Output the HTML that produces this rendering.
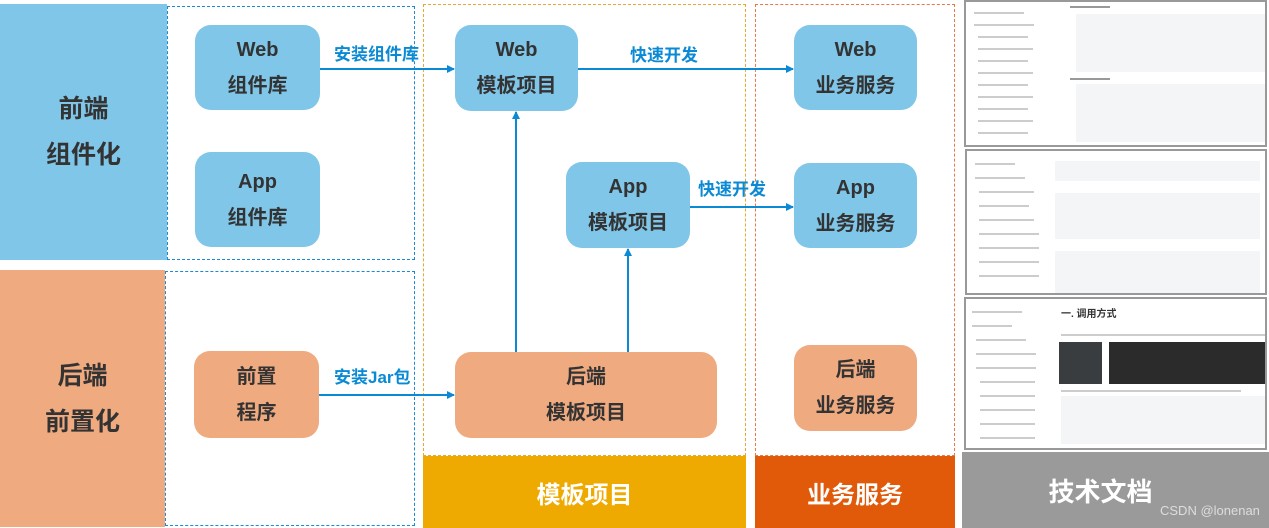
<!DOCTYPE html>
<html><head><meta charset="utf-8"><style>
body{margin:0;width:1269px;height:528px;position:relative;background:#fff;overflow:hidden;font-family:"Liberation Sans","Noto Sans CJK SC",sans-serif;}
.a{position:absolute;box-sizing:border-box;}
.n{position:absolute;box-sizing:border-box;border-radius:16px;display:flex;align-items:center;justify-content:center;text-align:center;font-weight:bold;font-size:20px;line-height:36px;color:#333;}
.b{background:#7fc6e8}.o{background:#f0aa80}
.big{position:absolute;display:flex;align-items:center;justify-content:center;text-align:center;font-weight:bold;color:#333;font-size:25px;line-height:46px}
.lbl{position:absolute;color:#0a8ad4;font-weight:bold;font-size:16px}
.bar{position:absolute;display:flex;align-items:center;justify-content:center;color:#fff;font-weight:bold;font-size:24px}
.doc{position:absolute;border:2px solid #999;background:#fff;box-sizing:border-box;overflow:hidden}
.ln{position:absolute;height:2px;background:#ccc}
.cd{position:absolute;background:#f4f5f7}
</style></head><body>
<div class="big b" style="left:0;top:4px;width:167px;height:256px">前端<br>组件化</div>
<div class="a" style="left:167px;top:6px;width:248px;height:254px;border:1.5px dashed #1a8ad4"></div>
<div class="big o" style="left:0;top:270px;width:165px;height:257px">后端<br>前置化</div>
<div class="a" style="left:165px;top:271px;width:250px;height:255px;border:1.5px dashed #1a8ad4"></div>
<div class="a" style="left:423px;top:4px;width:323px;height:452px;border:1.5px dashed #e8a830"></div>
<div class="bar" style="left:423px;top:456px;width:323px;height:72px;background:#eeaa00">模板项目</div>
<div class="a" style="left:755px;top:4px;width:200px;height:452px;border:1.5px dashed #e8784a"></div>
<div class="bar" style="left:755px;top:456px;width:200px;height:72px;background:#e05a0a">业务服务</div>
<div class="bar" style="left:962px;top:452px;width:307px;height:76px;background:#9a9a9a;font-size:26px;padding-right:30px;box-sizing:border-box">技术文档</div>
<div class="a" style="left:1160px;top:503px;color:#ddd;font-size:13px">CSDN @lonenan</div>

<div class="doc" style="left:964px;top:0;width:303px;height:147px">
<div class="ln" style="left:8px;top:10px;width:50px"></div><div class="ln" style="left:8px;top:22px;width:60px"></div><div class="ln" style="left:12px;top:34px;width:50px"></div><div class="ln" style="left:12px;top:46px;width:55px"></div><div class="ln" style="left:12px;top:58px;width:50px"></div><div class="ln" style="left:12px;top:70px;width:55px"></div><div class="ln" style="left:12px;top:82px;width:50px"></div><div class="ln" style="left:12px;top:94px;width:55px"></div><div class="ln" style="left:12px;top:106px;width:50px"></div><div class="ln" style="left:12px;top:118px;width:55px"></div><div class="ln" style="left:12px;top:130px;width:50px"></div>
<div class="ln" style="left:104px;top:4px;width:40px;background:#999"></div>
<div class="cd" style="left:110px;top:12px;width:190px;height:58px"></div>
<div class="ln" style="left:104px;top:76px;width:40px;background:#999"></div>
<div class="cd" style="left:110px;top:82px;width:190px;height:58px"></div>
</div>
<div class="doc" style="left:965px;top:149px;width:302px;height:146px">
<div class="ln" style="left:8px;top:12px;width:40px"></div><div class="ln" style="left:8px;top:26px;width:50px"></div><div class="ln" style="left:12px;top:40px;width:55px"></div><div class="ln" style="left:12px;top:54px;width:50px"></div><div class="ln" style="left:12px;top:68px;width:55px"></div><div class="ln" style="left:12px;top:82px;width:60px"></div><div class="ln" style="left:12px;top:96px;width:60px"></div><div class="ln" style="left:12px;top:110px;width:60px"></div><div class="ln" style="left:12px;top:124px;width:60px"></div>
<div class="cd" style="left:88px;top:10px;width:205px;height:20px"></div>
<div class="cd" style="left:88px;top:42px;width:205px;height:46px"></div>
<div class="cd" style="left:88px;top:100px;width:205px;height:42px"></div>
</div>
<div class="doc" style="left:964px;top:297px;width:303px;height:153px">
<div class="ln" style="left:6px;top:12px;width:50px"></div><div class="ln" style="left:6px;top:26px;width:40px"></div><div class="ln" style="left:10px;top:40px;width:50px"></div><div class="ln" style="left:10px;top:54px;width:60px"></div><div class="ln" style="left:10px;top:68px;width:60px"></div><div class="ln" style="left:14px;top:82px;width:55px"></div><div class="ln" style="left:14px;top:96px;width:55px"></div><div class="ln" style="left:14px;top:110px;width:55px"></div><div class="ln" style="left:14px;top:124px;width:55px"></div><div class="ln" style="left:14px;top:138px;width:55px"></div>
<div class="a" style="left:95px;top:6px;font-size:10px;font-weight:bold;color:#333">一. 调用方式</div>
<div class="ln" style="left:95px;top:35px;width:205px"></div>
<div class="a" style="left:93px;top:43px;width:43px;height:42px;background:#3a3d40"></div>
<div class="a" style="left:143px;top:43px;width:160px;height:42px;background:#2b2b2b"></div>
<div class="ln" style="left:95px;top:91px;width:180px"></div>
<div class="cd" style="left:95px;top:97px;width:205px;height:48px"></div>
</div>

<div class="n b" style="left:195px;top:25px;width:125px;height:85px">Web<br>组件库</div>
<div class="n b" style="left:195px;top:152px;width:125px;height:95px">App<br>组件库</div>
<div class="n b" style="left:455px;top:25px;width:123px;height:86px">Web<br>模板项目</div>
<div class="n b" style="left:566px;top:162px;width:124px;height:86px">App<br>模板项目</div>
<div class="n b" style="left:794px;top:25px;width:123px;height:85px">Web<br>业务服务</div>
<div class="n b" style="left:794px;top:163px;width:123px;height:85px">App<br>业务服务</div>
<div class="n o" style="left:194px;top:351px;width:125px;height:87px">前置<br>程序</div>
<div class="n o" style="left:455px;top:352px;width:262px;height:86px">后端<br>模板项目</div>
<div class="n o" style="left:794px;top:345px;width:123px;height:86px">后端<br>业务服务</div>

<svg class="a" style="left:0;top:0" width="1269" height="528">
<defs><marker id="m" markerWidth="8" markerHeight="8" refX="7" refY="4" orient="auto" markerUnits="userSpaceOnUse"><path d="M0,0 L8,4 L0,8z" fill="#0a8ad4"/></marker></defs>
<g stroke="#0a8ad4" stroke-width="2" fill="none" marker-end="url(#m)">
<line x1="320" y1="69" x2="454" y2="69"/>
<line x1="578" y1="69" x2="793" y2="69"/>
<line x1="690" y1="207" x2="793" y2="207"/>
<line x1="319" y1="395" x2="454" y2="395"/>
<line x1="516" y1="352" x2="516" y2="112"/>
<line x1="628" y1="352" x2="628" y2="249"/>
</g></svg>
<div class="lbl" style="left:334px;top:40px;font-size:17px">安装组件库</div>
<div class="lbl" style="left:630px;top:41px;font-size:17px">快速开发</div>
<div class="lbl" style="left:698px;top:175px;font-size:17px">快速开发</div>
<div class="lbl" style="left:334px;top:363px;font-size:17px">安装Jar包</div>
</body></html>
